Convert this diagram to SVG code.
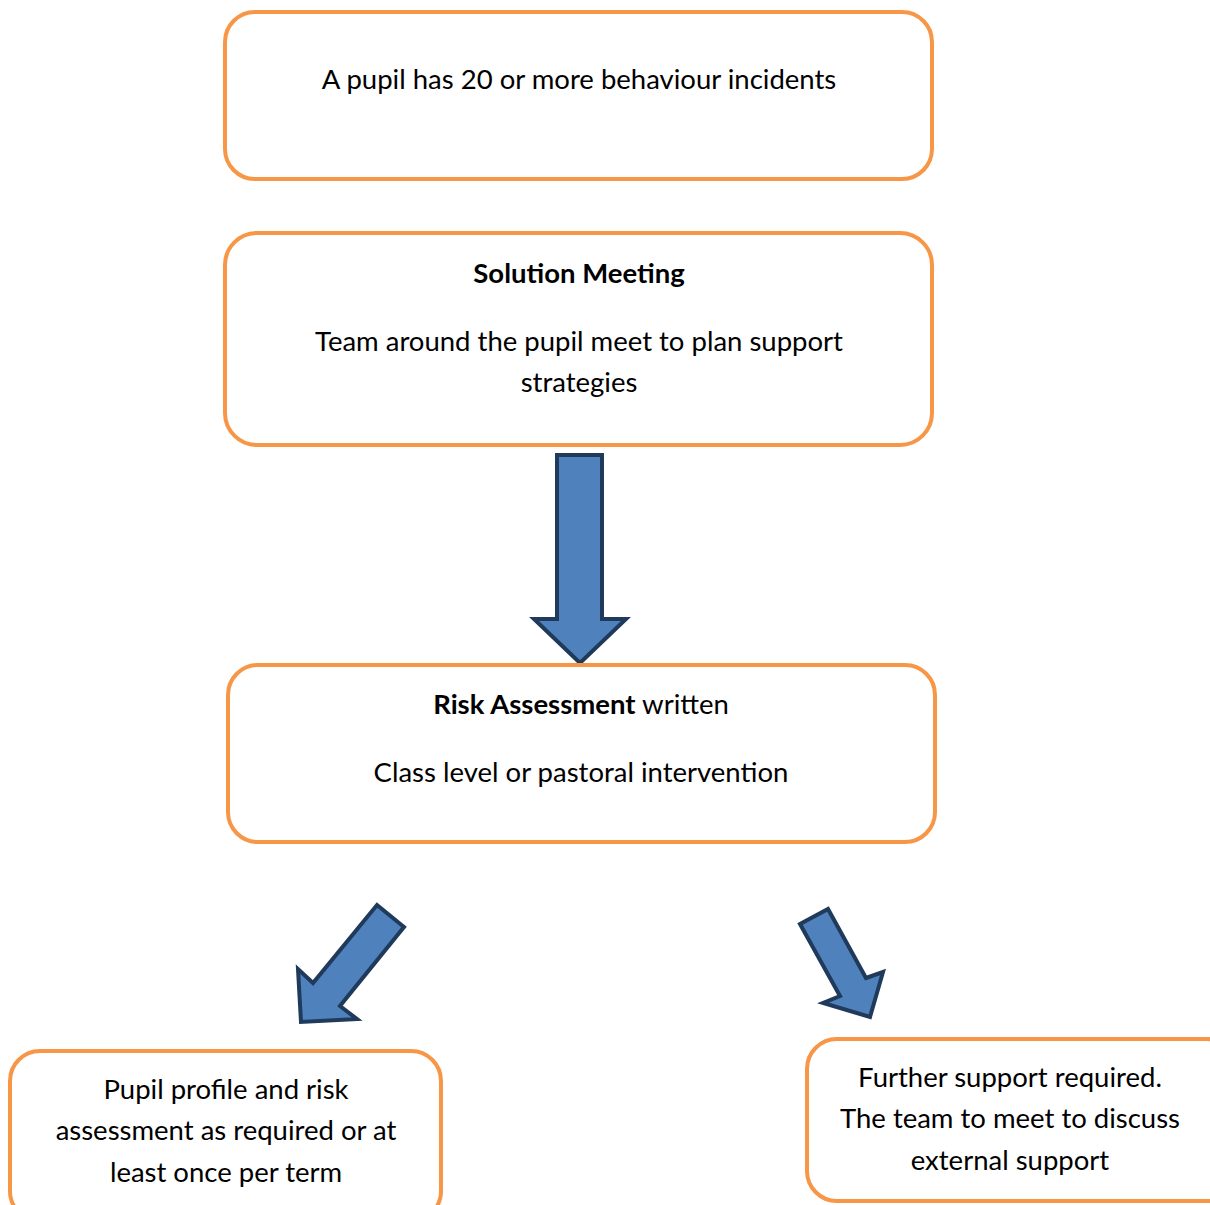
<svg xmlns="http://www.w3.org/2000/svg" width="1210" height="1205" viewBox="0 0 1210 1205">
<style>
.box{fill:#ffffff;stroke:#F79646;stroke-width:4}
.arr{fill:#4F81BD;stroke:#1F3A5A;stroke-width:4;stroke-linejoin:miter}
text{font-family:Lato,"Open Sans",sans-serif;font-size:27.5px;fill:#000;text-anchor:middle}
.b{font-weight:bold}
</style>
<rect width="1210" height="1205" fill="#ffffff"/>
<g id="connectors">
<polygon class="arr" points="557,455 602,455 602,619 626,619 580,663 534,619 557,619"/>
<polygon class="arr" points="377,905 404,927 340,1006 357,1019 301,1022 298,969 313,983"/>
<polygon class="arr" points="800,924 828,909 866,978 883,972 870,1017 823,1003 840,996"/>
</g>
<g id="node1">
<rect class="box" x="225" y="12" width="707" height="167" rx="30"/>
<text x="579" y="89">A pupil has 20 or more behaviour incidents</text>
</g>
<g id="node2">
<rect class="box" x="225" y="233" width="707" height="212" rx="32"/>
<text x="579" y="283" class="b">Solution Meeting</text>
<text x="579" y="351">Team around the pupil meet to plan support</text>
<text x="579" y="392">strategies</text>
</g>
<g id="node3">
<rect class="box" x="228" y="665" width="707" height="177" rx="30"/>
<text x="581" y="714"><tspan class="b">Risk Assessment</tspan> written</text>
<text x="581" y="782">Class level or pastoral intervention</text>
</g>
<g id="node4">
<rect class="box" x="10" y="1051" width="431" height="170" rx="30"/>
<text x="226" y="1099">Pupil profile and risk</text>
<text x="226" y="1140">assessment as required or at</text>
<text x="226" y="1182">least once per term</text>
</g>
<g id="node5">
<rect class="box" x="807" y="1039" width="430" height="162" rx="30"/>
<text x="1010" y="1087">Further support required.</text>
<text x="1010" y="1128">The team to meet to discuss</text>
<text x="1010" y="1170">external support</text>
</g>
</svg>
